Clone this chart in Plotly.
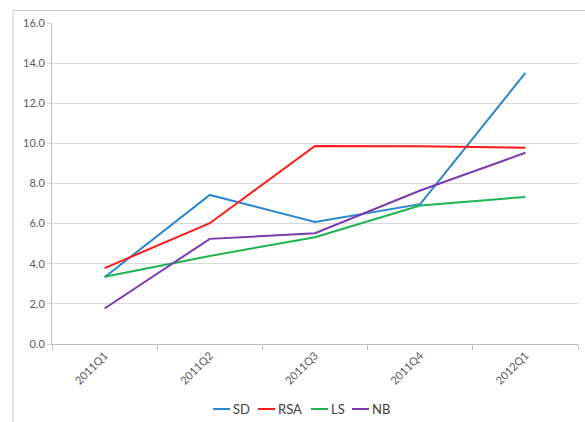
import plotly.graph_objects as go

# Quarterly values per series
quarters = ["2011Q1", "2011Q2", "2011Q3", "2011Q4", "2012Q1"]
sd = [3.33, 7.43, 6.08, 6.97, 13.51]
rsa = [3.78, 6.02, 9.87, 9.86, 9.78]
ls = [3.35, 4.39, 5.32, 6.90, 7.33]
nb = [1.77, 5.24, 5.52, 7.65, 9.53]

series_names = ["SD", "RSA", "LS", "NB"]
series_values = [sd, rsa, ls, nb]
series_colors = ["#2B87CF", "#FF1A1A", "#1DB34F", "#7A3BAE"]

y_ticks = [0, 2, 4, 6, 8, 10, 12, 14, 16]
y_tick_text = [f"{v:.1f}" for v in y_ticks]

W, H = 585, 422
ml, mr, mt, mb = 52, 7, 23, 78
pw = W - ml - mr
ph = H - mt - mb

def px_x(p):
    return (p - ml) / pw

def px_y(p):
    return (H - mb - p) / ph

fig = go.Figure()
for name, vals, col in zip(series_names, series_values, series_colors):
    fig.add_trace(go.Scatter(
        x=quarters, y=vals, name=name, mode="lines",
        line=dict(color=col, width=2), showlegend=False,
    ))

font_family = "Lato, 'Open Sans', sans-serif"
tick_font = dict(family=font_family, size=11, color="#595959")

fig.update_xaxes(
    type="category", tickangle=-45, tickson="boundaries",
    ticks="outside", ticklen=5, tickcolor="#BFBFBF",
    showline=True, linecolor="#BFBFBF", linewidth=1,
    showgrid=False, tickfont=tick_font, range=[-0.5, 4.5],
)
fig.update_yaxes(
    range=[0, 16], tickvals=y_ticks, ticktext=y_tick_text,
    ticks="outside", ticklen=4, tickcolor="#D9D9D9",
    showline=True, linecolor="#BFBFBF", linewidth=1,
    showgrid=True, gridcolor="#D9D9D9", gridwidth=1,
    zeroline=False, tickfont=tick_font,
)

shapes = [
    # chart frame
    dict(type="rect", xref="paper", yref="paper",
         x0=px_x(13), x1=1.2, y0=-0.5, y1=px_y(10.5),
         line=dict(color="#C8C8C8", width=1), layer="below"),
]
annotations = []

# legend row beneath the axis
legend_y = px_y(409)
legend_items = [(213, 231), (258, 276), (311, 329), (352, 370)]
for (lx, tx), name, col in zip(legend_items, series_names, series_colors):
    shapes.append(dict(type="line", xref="paper", yref="paper",
                       x0=px_x(lx), x1=px_x(lx + 17), y0=legend_y, y1=legend_y,
                       line=dict(color=col, width=2)))
    annotations.append(dict(xref="paper", yref="paper", x=px_x(tx), y=legend_y,
                            text=name, showarrow=False, xanchor="left",
                            yanchor="middle",
                            font=dict(family=font_family, size=13, color="#404040")))

fig.update_layout(
    width=W, height=H,
    margin=dict(l=ml, r=mr, t=mt, b=mb),
    paper_bgcolor="white", plot_bgcolor="white",
    shapes=shapes, annotations=annotations,
    showlegend=False,
)

fig.write_html("out.html")
